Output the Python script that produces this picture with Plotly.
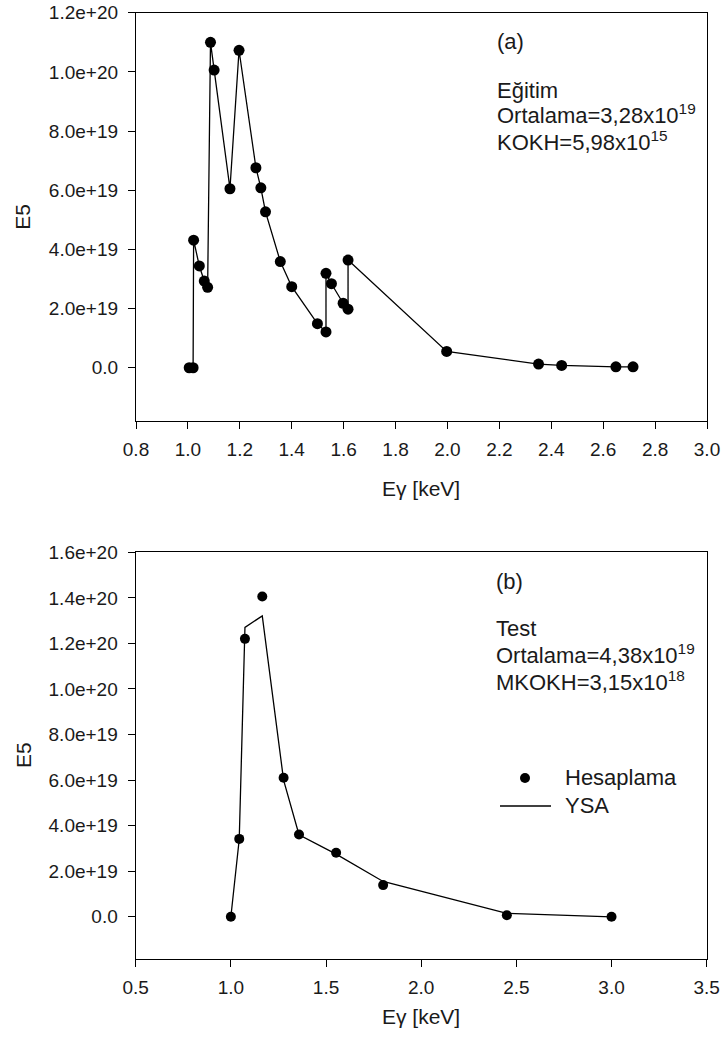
import plotly.graph_objects as go

W, H = 723, 1046

# ---------------- data: (a) training ----------------
train_E = [1.005, 1.02, 1.022, 1.044, 1.063, 1.076, 1.087, 1.101, 1.162, 1.197,
           1.262, 1.281, 1.299, 1.356, 1.40, 1.499, 1.532, 1.532, 1.553, 1.598,
           1.617, 1.617, 1.997, 2.351, 2.44, 2.649, 2.715]
train_E5 = [0.0, 0.0, 4.31e19, 3.44e19, 2.93e19, 2.72e19, 1.10e20, 1.006e20, 6.05e19, 1.073e20,
            6.76e19, 6.08e19, 5.27e19, 3.59e19, 2.74e19, 1.49e19, 1.21e19, 3.19e19, 2.84e19, 2.18e19,
            1.98e19, 3.64e19, 0.55e19, 0.125e19, 0.08e19, 0.03e19, 0.03e19]

# ---------------- data: (b) test ----------------
test_E = [1.0, 1.044, 1.074, 1.165, 1.277, 1.358, 1.553, 1.80, 2.45, 3.0]
test_calc = [0.0, 3.42e19, 12.2e19, 14.06e19, 6.1e19, 3.61e19, 2.81e19, 1.39e19, 0.07e19, 0.0]
test_ysa = [0.0, 3.4e19, 12.7e19, 13.21e19, 6.0e19, 3.6e19, 2.75e19, 1.55e19, 0.15e19, 0.0]

# ---------------- tick labels ----------------
ya_vals = [0, 2e19, 4e19, 6e19, 8e19, 1.0e20, 1.2e20]
ya_text = ["0.0", "2.0e+19", "4.0e+19", "6.0e+19", "8.0e+19", "1.0e+20", "1.2e+20"]
yb_vals = [0, 2e19, 4e19, 6e19, 8e19, 1.0e20, 1.2e20, 1.4e20, 1.6e20]
yb_text = ["0.0", "2.0e+19", "4.0e+19", "6.0e+19", "8.0e+19", "1.0e+20", "1.2e+20", "1.4e+20", "1.6e+20"]
xa_vals = [0.8, 1.0, 1.2, 1.4, 1.6, 1.8, 2.0, 2.2, 2.4, 2.6, 2.8, 3.0]
xa_text = ["0.8", "1.0", "1.2", "1.4", "1.6", "1.8", "2.0", "2.2", "2.4", "2.6", "2.8", "3.0"]
xb_vals = [0.5, 1.0, 1.5, 2.0, 2.5, 3.0, 3.5]
xb_text = ["0.5", "1.0", "1.5", "2.0", "2.5", "3.0", "3.5"]

FONT = "Liberation Sans, Arial, sans-serif"
TXT = "#1a1a1a"


def px(x):
    return x / W


def py(y):
    return 1 - y / H


fig = go.Figure()

fig.add_trace(go.Scatter(x=train_E, y=train_E5, mode="lines+markers",
                         line=dict(color="black", width=1.3),
                         marker=dict(color="black", size=11),
                         xaxis="x", yaxis="y", showlegend=False))

fig.add_trace(go.Scatter(x=test_E, y=test_ysa, mode="lines",
                         line=dict(color="black", width=1.3),
                         xaxis="x2", yaxis="y2", showlegend=False, name="YSA"))
fig.add_trace(go.Scatter(x=test_E, y=test_calc, mode="markers",
                         marker=dict(color="black", size=10),
                         xaxis="x2", yaxis="y2", showlegend=False, name="Hesaplama"))

axis_common = dict(showline=True, mirror=True, linecolor="black", linewidth=1.3,
                   ticks="outside", ticklen=7, tickwidth=1.3, tickcolor="black",
                   showgrid=False, zeroline=False, automargin=False,
                   tickfont=dict(family=FONT, size=19, color=TXT))

fig.update_layout(
    width=W, height=H,
    margin=dict(l=0, r=0, t=0, b=0, autoexpand=False),
    paper_bgcolor="white", plot_bgcolor="white",
    font=dict(family=FONT, color=TXT),
    xaxis=dict(domain=[px(136), px(707)], range=[0.8, 3.0], anchor="y",
               tickvals=xa_vals, ticktext=xa_text, ticklabelstandoff=4, **axis_common),
    yaxis=dict(domain=[py(421), py(12.7)], range=[-1.8e19, 1.2e20], anchor="x",
               tickvals=ya_vals, ticktext=ya_text, ticklabelstandoff=6, **axis_common),
    xaxis2=dict(domain=[px(135.7), px(706.7)], range=[0.5, 3.5], anchor="y2",
                tickvals=xb_vals, ticktext=xb_text, ticklabelstandoff=4, **axis_common),
    yaxis2=dict(domain=[py(958.7), py(552.3)], range=[-1.84e19, 1.6e20], anchor="x2",
                tickvals=yb_vals, ticktext=yb_text, ticklabelstandoff=6, **axis_common),
)

ann = []


def add_text(text, x, y, size=22, xanchor="left", angle=0):
    ann.append(dict(text=text, x=px(x), y=py(y), xref="paper", yref="paper",
                    xanchor=xanchor, yanchor="middle", showarrow=False, textangle=angle,
                    font=dict(family=FONT, size=size, color=TXT)))


# panel (a)
add_text("(a)", 495, 41.7)
add_text("Eğitim", 495, 90)
add_text("Ortalama=3,28x10<sup>19</sup>", 495, 114)
add_text("KOKH=5,98x10<sup>15</sup>", 495, 141)
add_text("E5", 23, 216.7, size=21, xanchor="center", angle=-90)
add_text("Eγ [keV]", 421, 488.3, size=21, xanchor="center")

# panel (b)
add_text("(b)", 494, 581.7)
add_text("Test", 494, 628.3)
add_text("Ortalama=4,38x10<sup>19</sup>", 494, 654)
add_text("MKOKH=3,15x10<sup>18</sup>", 494, 681)
add_text("E5", 23, 755, size=21, xanchor="center", angle=-90)
add_text("Eγ [keV]", 421, 1016.7, size=21, xanchor="center")

# manual legend
add_text("Hesaplama", 563, 777.5)
add_text("YSA", 563, 805)

fig.update_layout(annotations=ann)

shapes = [
    dict(type="circle", xref="paper", yref="paper",
         x0=px(520), x1=px(530), y0=py(783), y1=py(773),
         fillcolor="black", line=dict(color="black", width=0)),
    dict(type="line", xref="paper", yref="paper",
         x0=px(500), x1=px(551), y0=py(806), y1=py(806),
         line=dict(color="black", width=1.3)),
]
fig.update_layout(shapes=shapes)

fig.write_html("out.html",
               config={"displayModeBar": False},
               post_script="document.body.style.margin='0';document.body.style.padding='0';"
                           "document.documentElement.style.overflow='hidden';")
